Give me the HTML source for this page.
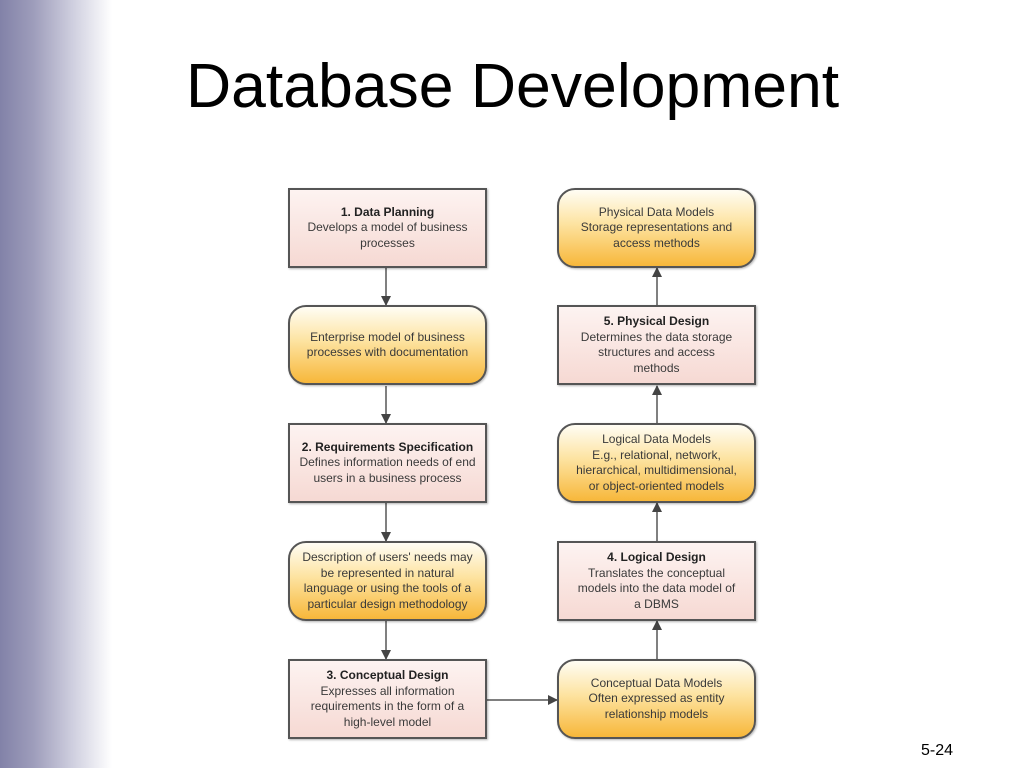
<!DOCTYPE html>
<html><head><meta charset="utf-8"><style>
body{margin:0;width:1024px;height:768px;position:relative;overflow:hidden;background:#fff;font-family:"Liberation Sans",Arial,sans-serif}
.side{position:absolute;left:0;top:0;width:112px;height:768px;background:linear-gradient(to right,#8282a8 0%,#9e9dbb 30%,#cfcfdf 65%,#fff 100%)}
h1{position:absolute;top:50px;margin:0;font-weight:normal;font-size:62.5px;color:#000}
.b{position:absolute;width:199px;height:80px;box-sizing:border-box;border:2px solid #555;display:flex;align-items:center;justify-content:center;text-align:center;font-size:12px;line-height:15.5px;color:#3a3a3a;box-shadow:1px 1px 2px rgba(0,0,0,.3)}
.r{background:linear-gradient(#fdf3f1,#f6d9d3)}
.o{border-radius:18px;background:linear-gradient(#fffdf4 0%,#fde3a0 45%,#f7b73a 100%)}
.b b{color:#222}
.pg{position:absolute;left:921px;top:742px;font-size:16px}
</style></head><body>
<div class="side"></div>
<h1 style="left:186px">Database Development</h1>
<svg width="1024" height="768" style="position:absolute;left:0;top:0">
<defs><marker id="a" markerWidth="10" markerHeight="10" refX="9" refY="5" orient="auto" markerUnits="userSpaceOnUse"><path d="M0,0 L10,5 L0,10 z" fill="#444"/></marker></defs>
<g stroke="#555" stroke-width="1.5" fill="none" marker-end="url(#a)">
<line x1="386" y1="268" x2="386" y2="305"/>
<line x1="386" y1="386" x2="386" y2="423"/>
<line x1="386" y1="503" x2="386" y2="541"/>
<line x1="386" y1="621" x2="386" y2="659"/>
<line x1="486" y1="700" x2="557" y2="700"/>
<line x1="657" y1="659" x2="657" y2="621"/>
<line x1="657" y1="541" x2="657" y2="503"/>
<line x1="657" y1="423" x2="657" y2="386"/>
<line x1="657" y1="305" x2="657" y2="268"/>
</g></svg>
<div class="b r" style="left:288px;top:188px"><div><b>1. Data Planning</b><br>Develops a model of business<br>processes</div></div>
<div class="b o" style="left:288px;top:305px"><div>Enterprise model of business<br>processes with documentation</div></div>
<div class="b r" style="left:288px;top:423px"><div><b>2. Requirements Specification</b><br>Defines information needs of end<br>users in a business process</div></div>
<div class="b o" style="left:288px;top:541px"><div>Description of users' needs may<br>be represented in natural<br>language or using the tools of a<br>particular design methodology</div></div>
<div class="b r" style="left:288px;top:659px"><div><b>3. Conceptual Design</b><br>Expresses all information<br>requirements in the form of a<br>high-level model</div></div>
<div class="b o" style="left:557px;top:188px"><div>Physical Data Models<br>Storage representations and<br>access methods</div></div>
<div class="b r" style="left:557px;top:305px"><div><b>5. Physical Design</b><br>Determines the data storage<br>structures and access<br>methods</div></div>
<div class="b o" style="left:557px;top:423px"><div>Logical Data Models<br>E.g., relational, network,<br>hierarchical, multidimensional,<br>or object-oriented models</div></div>
<div class="b r" style="left:557px;top:541px"><div><b>4. Logical Design</b><br>Translates the conceptual<br>models into the data model of<br>a DBMS</div></div>
<div class="b o" style="left:557px;top:659px"><div>Conceptual Data Models<br>Often expressed as entity<br>relationship models</div></div>
<div class="pg">5-24</div>
</body></html>
